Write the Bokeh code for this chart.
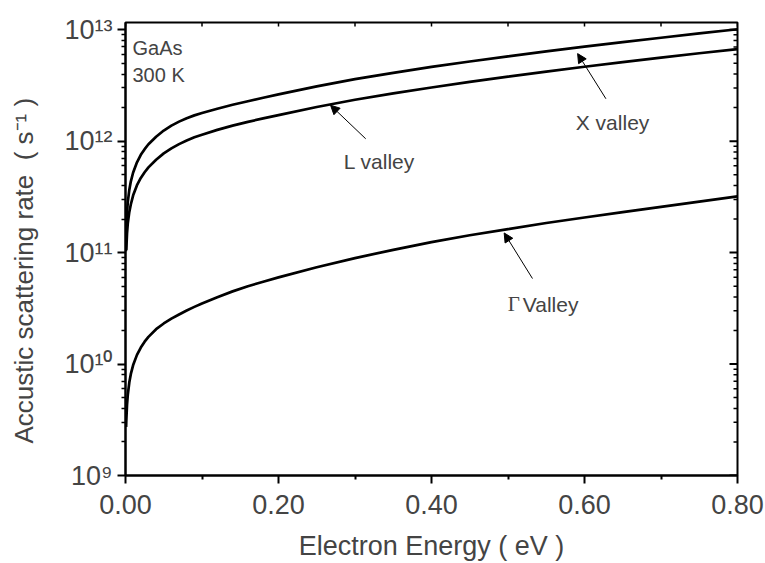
from math import pi

from bokeh.embed import file_html
from bokeh.models import Arrow, FixedTicker, Label, NormalHead, Range1d
from bokeh.plotting import figure
from bokeh.resources import INLINE

# Acoustic-phonon scattering rate in GaAs at 300 K, per valley (eV, 1/s)
x_valley_energy = [0.0004, 0.001, 0.002, 0.003, 0.005, 0.007, 0.01, 0.015, 0.02, 0.025,
                   0.03, 0.04, 0.05, 0.06, 0.07, 0.08, 0.09, 0.1, 0.12, 0.14, 0.16,
                   0.18, 0.2, 0.25, 0.3, 0.35, 0.4, 0.45, 0.5, 0.55, 0.6, 0.65, 0.7,
                   0.75, 0.8]
x_valley_rate = [1.03e11, 1.63e11, 2.31e11, 2.84e11, 3.67e11, 4.36e11, 5.23e11, 6.46e11,
                 7.53e11, 8.47e11, 9.37e11, 1.096e12, 1.245e12, 1.378e12, 1.497e12,
                 1.607e12, 1.703e12, 1.786e12, 1.954e12, 2.118e12, 2.28e12, 2.449e12,
                 2.624e12, 3.1e12, 3.6e12, 4.104e12, 4.63e12, 5.185e12, 5.77e12,
                 6.386e12, 7.04e12, 7.735e12, 8.47e12, 9.25e12, 1.009e13]

l_valley_energy = [0.001, 0.002, 0.003, 0.005, 0.007, 0.01, 0.015, 0.02, 0.025, 0.03,
                   0.04, 0.05, 0.06, 0.07, 0.08, 0.09, 0.1, 0.12, 0.14, 0.16, 0.18,
                   0.2, 0.25, 0.3, 0.35, 0.4, 0.45, 0.5, 0.55, 0.6, 0.65, 0.7, 0.75,
                   0.8]
l_valley_rate = [1.053e11, 1.493e11, 1.832e11, 2.317e11, 2.716e11, 3.265e11, 4.027e11,
                 4.677e11, 5.257e11, 5.817e11, 6.806e11, 7.762e11, 8.61e11, 9.404e11,
                 1.014e12, 1.082e12, 1.14e12, 1.262e12, 1.377e12, 1.489e12, 1.6e12,
                 1.714e12, 2.026e12, 2.351e12, 2.68e12, 3.031e12, 3.402e12, 3.793e12,
                 4.209e12, 4.651e12, 5.122e12, 5.622e12, 6.142e12, 6.694e12]

gamma_valley_energy = [0.0008, 0.001, 0.002, 0.003, 0.005, 0.007, 0.01, 0.015, 0.02,
                       0.025, 0.03, 0.04, 0.05, 0.06, 0.07, 0.08, 0.09, 0.1, 0.12,
                       0.14, 0.16, 0.18, 0.2, 0.25, 0.3, 0.35, 0.4, 0.45, 0.5, 0.55,
                       0.6, 0.65, 0.7, 0.75, 0.8]
gamma_valley_rate = [2.73e9, 3.05e9, 4.32e9, 5.3e9, 6.87e9, 8.15e9, 9.79e9, 1.209e10,
                     1.407e10, 1.587e10, 1.752e10, 2.054e10, 2.312e10, 2.553e10,
                     2.786e10, 3.02e10, 3.258e10, 3.499e10, 3.981e10, 4.487e10,
                     4.989e10, 5.483e10, 5.998e10, 7.39e10, 8.93e10, 1.059e11, 1.243e11,
                     1.431e11, 1.626e11, 1.843e11, 2.065e11, 2.307e11, 2.568e11,
                     2.866e11, 3.198e11]

# Axis ticks and their labels
x_major_ticks = [0.0, 0.2, 0.4, 0.6, 0.8]
x_minor_ticks = [0.1, 0.3, 0.5, 0.7]
x_tick_labels = ["0.00", "0.20", "0.40", "0.60", "0.80"]
y_decade_exponents = [9, 10, 11, 12, 13]

SANS = "Liberation Sans"
SERIF = "Liberation Serif"
NBSP = "\u00a0"
SUPERSCRIPT = str.maketrans("0123456789-", "\u2070\u00b9\u00b2\u00b3\u2074\u2075\u2076\u2077\u2078\u2079\u207b")

X_MIN, X_MAX = 0.0, 0.8
Y_MIN, Y_MAX = 1e9, 1.16e13
FRAME_W, FRAME_H = 612, 455

y_major = [10.0 ** e for e in y_decade_exponents]
y_minor = [k * 10.0 ** e for e in y_decade_exponents[:-1] for k in range(2, 10)]

p = figure(width=765, height=563, output_backend="svg", toolbar_location=None,
           y_axis_type="log", x_range=Range1d(X_MIN, X_MAX), y_range=Range1d(Y_MIN, Y_MAX),
           min_border_left=125, min_border_right=28, min_border_top=22,
           min_border_bottom=86)
p.grid.visible = False
p.outline_line_color = "black"
p.outline_line_width = 2
p.background_fill_color = "white"
p.border_fill_color = "white"

# bottom axis
xa = p.xaxis[0]
xa.ticker = FixedTicker(ticks=x_major_ticks, minor_ticks=x_minor_ticks)
xa.major_label_overrides = {t: s for t, s in zip(x_major_ticks, x_tick_labels)}
xa.major_label_text_font = SANS
xa.major_label_text_font_size = "27px"
xa.major_label_standoff = 11
xa.major_tick_out = 8
xa.major_tick_in = 0
xa.minor_tick_out = 4
xa.minor_tick_in = 0
xa.axis_line_width = 2
xa.major_tick_line_width = 2
xa.minor_tick_line_width = 2
xa.axis_label = "Electron Energy ( eV )"
xa.axis_label_text_font = SANS
xa.axis_label_text_font_style = "normal"
xa.axis_label_text_font_size = "27px"
xa.axis_label_standoff = 14

# left axis: powers of ten
ya = p.yaxis[0]
ya.ticker = FixedTicker(ticks=y_major, minor_ticks=y_minor)
ya.major_label_overrides = {10.0 ** e: "10" + str(e).translate(SUPERSCRIPT)
                            for e in y_decade_exponents}
ya.major_label_text_font = SANS
ya.major_label_text_font_size = "27px"
ya.major_label_standoff = 5
ya.major_tick_out = 8
ya.major_tick_in = 0
ya.minor_tick_out = 4
ya.minor_tick_in = 0
ya.axis_line_width = 2
ya.major_tick_line_width = 2
ya.minor_tick_line_width = 1.5
ya.axis_label = ("Accustic scattering rate " + NBSP + "( s" + "-1".translate(SUPERSCRIPT)
                 + " )" + NBSP * 6)
ya.axis_label_text_font = SANS
ya.axis_label_text_font_style = "normal"
ya.axis_label_text_font_size = "26px"
ya.axis_label_standoff = 22

# inward ticks mirrored on the right and top edges
dx_major = 8 * (X_MAX - X_MIN) / FRAME_W
dx_minor = 4 * (X_MAX - X_MIN) / FRAME_W
p.segment([X_MAX] * len(y_major), y_major, [X_MAX - dx_major] * len(y_major), y_major,
          line_color="black", line_width=2)
p.segment([X_MAX] * len(y_minor), y_minor, [X_MAX - dx_minor] * len(y_minor), y_minor,
          line_color="black", line_width=1.5)
top_ticks = x_major_ticks + x_minor_ticks
y_top_in = Y_MAX / (Y_MAX / Y_MIN) ** (4 / FRAME_H)
p.segment(top_ticks, [Y_MAX] * len(top_ticks), top_ticks, [y_top_in] * len(top_ticks),
          line_color="black", line_width=1.5)

# curves
for xs, ys in [(x_valley_energy, x_valley_rate), (l_valley_energy, l_valley_rate),
               (gamma_valley_energy, gamma_valley_rate)]:
    p.line(xs, ys, line_color="black", line_width=2.7, line_join="round")

# annotations
p.add_layout(Label(x=0, y=10.0 ** 12.832, x_offset=7, text="GaAs", text_font=SANS,
                   text_font_size="20px", text_baseline="alphabetic"))
p.add_layout(Label(x=0, y=10.0 ** 12.591, x_offset=7, text="300 K", text_font=SANS,
                   text_font_size="20px", text_baseline="alphabetic"))


def pointer(x0, y0, x1, y1):
    p.add_layout(Arrow(x_start=x0, y_start=y0, x_end=x1, y_end=y1, line_width=1,
                       line_color="black",
                       end=NormalHead(size=9, fill_color="black", line_color="black",
                                      line_width=1)))


pointer(0.628, 2.4e12, 0.591, 6.1e12)
p.add_layout(Label(x=0.5886, y=10.0 ** 12.171, text="X valley", text_font=SANS,
                   text_font_size="21px", text_baseline="alphabetic"))

pointer(0.314, 1.05e12, 0.268, 2.1e12)
p.add_layout(Label(x=0.2854, y=10.0 ** 11.814, text="L valley", text_font=SANS,
                   text_font_size="21px", text_baseline="alphabetic"))

pointer(0.532, 5.85e10, 0.495, 1.5e11)
p.add_layout(Label(x=0.4997, y=10.0 ** 10.536, text="\u0393", text_font=SERIF,
                   text_font_size="21px", text_baseline="alphabetic"))
p.add_layout(Label(x=0.4997, y=10.0 ** 10.536, x_offset=15, text="Valley",
                   text_font=SANS, text_font_size="21px", text_baseline="alphabetic"))

open("out.html", "w").write(file_html(p, INLINE))
